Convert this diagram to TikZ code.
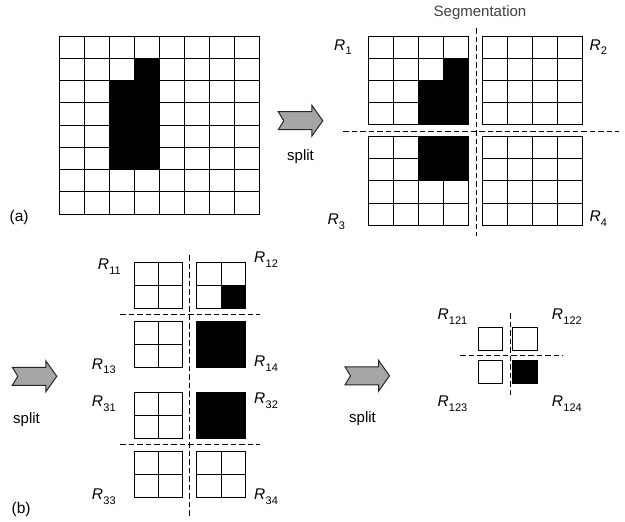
\documentclass[tikz,border=0pt]{standalone}
\usepackage{fontspec}
\setmainfont{Liberation Sans}
\newcommand\rlab[1]{\textit{R}\kern0.3pt\raisebox{-0.32em}{\fontsize{11}{12}\selectfont #1}}
\newcommand\cellgrid[6]{%
  \pgfmathtruncatemacro\gcx{#3-1}\pgfmathtruncatemacro\grx{#4-1}%
  \foreach \i in {1,...,\gcx} {\draw[gridln] ({#1+\i*#5},#2) -- ({#1+\i*#5},{#2+#4*#6});}
  \foreach \j in {1,...,\grx} {\draw[gridln] (#1,{#2+\j*#6}) -- ({#1+#3*#5},{#2+\j*#6});}
  \draw[gridln] (#1,#2) rectangle ({#1+#3*#5},{#2+#4*#6});}
\tikzset{
  gridln/.style={line width=1pt,black},
  sepline/.style={line width=0.9pt,black,dash pattern=on 5.5pt off 3pt},
  lab/.style={anchor=base west,inner sep=0pt,font=\fontsize{15.5}{17}\selectfont},
  txt/.style={anchor=base,inner sep=0pt,font=\fontsize{15}{17}\selectfont},
  blockarrow/.style={fill=black!35,draw=black!85,line width=1pt,line join=miter},
}
\newcommand\splitarrow[2]{%
  \draw[blockarrow] (#1,#2-9) -- (#1+33.5,#2-9) -- (#1+33.5,#2-15.5) -- (#1+44.5,#2) -- (#1+33.5,#2+15.5) -- (#1+33.5,#2+9) -- (#1,#2+9) -- (#1+5.5,#2) -- cycle;}
\begin{document}
\begin{tikzpicture}[x=1pt,y=-1pt]
\useasboundingbox (0,0) rectangle (625,522);
% ---------- (a) original image
\fill (134,58.25) rectangle (159,169.25);
\fill (109,80.5) rectangle (134,169.25);
\cellgrid{59}{36}{8}{8}{25}{22.25}
\node[txt,font=\fontsize{15.5}{17}\selectfont,anchor=base west] (la) at (9.5,221) {(a)};
% split arrow
\splitarrow{278.3}{120.7}
\node[txt] (s1) at (300.5,160) {split};
% ---------- segmentation
\node[txt,text=black!75] (seg) at (480,16.5) {Segmentation};
\fill (443,58.1) rectangle (468,124.4);
\fill (418,80.2) rectangle (443,124.4);
\cellgrid{368}{36}{4}{4}{25}{22.1}
\cellgrid{482.5}{36}{4}{4}{25}{22.1}
\fill (418,136.7) rectangle (468,180.9);
\cellgrid{368}{136.7}{4}{4}{25}{22.1}
\cellgrid{482.5}{136.7}{4}{4}{25}{22.1}
\coordinate (v1a) at (476.7,28); \coordinate (v1b) at (476.7,236);
\coordinate (h1a) at (343,131); \coordinate (h1b) at (619,131);
\draw[sepline] (v1a) -- (v1b);
\draw[sepline] (h1a) -- (h1b);
\node[lab] (r1) at (334,50) {\rlab{1}};
\node[lab] (r2) at (589.3,50) {\rlab{2}};
\node[lab] (r3) at (327.3,224.5) {\rlab{3}};
\node[lab] (r4) at (589.3,221.5) {\rlab{4}};
% ---------- (b)
\splitarrow{12.3}{376.3}
\node[txt] (s2) at (26.5,423.3) {split};
\node[txt,font=\fontsize{15.5}{17}\selectfont,anchor=base west] (lb) at (11.5,513) {(b)};
\cellgrid{134}{262.3}{2}{2}{24.3}{23}
\fill (221,285.3) rectangle (245.3,308.3);
\cellgrid{196.7}{262.3}{2}{2}{24.3}{23}
\cellgrid{134}{321}{2}{2}{24.3}{23}
\fill (196.7,321) rectangle (245.3,367);
\draw[gridln] (196.7,321) rectangle (245.3,367);
\cellgrid{134}{392.3}{2}{2}{24.3}{23.1}
\fill (196.7,392.3) rectangle (245.3,438.5);
\draw[gridln] (196.7,392.3) rectangle (245.3,438.5);
\cellgrid{134}{451}{2}{2}{24.3}{23.15}
\cellgrid{196.7}{451}{2}{2}{24.3}{23.15}
\coordinate (v2a) at (189.3,255); \coordinate (v2b) at (189.3,517);
\coordinate (h2a) at (120,314); \coordinate (h2b) at (260,314);
\coordinate (h3a) at (120,444); \coordinate (h3b) at (260,444);
\draw[sepline] (v2a) -- (v2b);
\draw[sepline] (h2a) -- (h2b);
\draw[sepline] (h3a) -- (h3b);
\node[lab] (r11) at (97.7,269.3) {\rlab{11}};
\node[lab] (r12) at (254,262.3) {\rlab{12}};
\node[lab] (r13) at (91.7,369) {\rlab{13}};
\node[lab] (r14) at (254,366.7) {\rlab{14}};
\node[lab] (r31) at (91.7,406.7) {\rlab{31}};
\node[lab] (r32) at (254,403.3) {\rlab{32}};
\node[lab] (r33) at (91.7,499.3) {\rlab{33}};
\node[lab] (r34) at (254,499.3) {\rlab{34}};
% ---------- (c)
\splitarrow{345}{375.8}
\node[txt] (s3) at (362.5,422.5) {split};
\draw[gridln] (478.3,327.3) rectangle (502.3,350.3);
\draw[gridln] (512.3,327.3) rectangle (537.3,350.3);
\draw[gridln] (478.3,360.3) rectangle (502.3,383.3);
\fill (512.3,360.3) rectangle (537.3,383.3);
\draw[gridln] (512.3,360.3) rectangle (537.3,383.3);
\coordinate (v3a) at (510,313); \coordinate (v3b) at (510,397);
\coordinate (h4a) at (460,355.7); \coordinate (h4b) at (563,355.7);
\draw[sepline] (v3a) -- (v3b);
\draw[sepline] (h4a) -- (h4b);
\node[lab] (r121) at (437.3,319.3) {\rlab{121}};
\node[lab] (r122) at (551.7,319.3) {\rlab{122}};
\node[lab] (r123) at (437.3,406.7) {\rlab{123}};
\node[lab] (r124) at (551.7,406.7) {\rlab{124}};
\end{tikzpicture}
\end{document}
